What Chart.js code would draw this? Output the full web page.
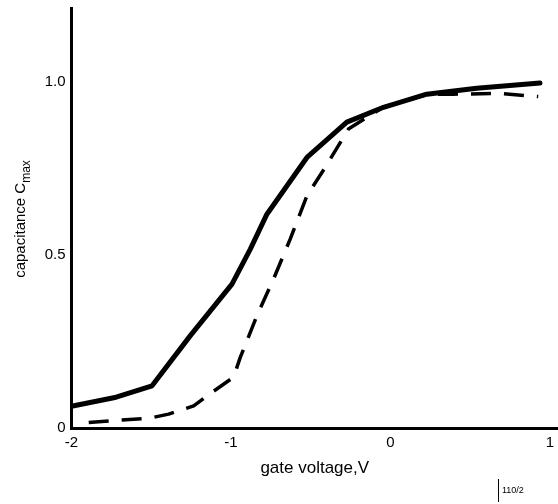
<!DOCTYPE html>
<html>
<head>
<meta charset="utf-8">
<script src="https://cdn.jsdelivr.net/npm/chart.js@4/dist/chart.umd.min.js"></script>
<style>
  html, body { margin: 0; padding: 0; background: #fff; }
  #wrap { width: 558px; height: 504px; position: relative; }
</style>
</head>
<body>
<div id="wrap"><canvas id="c" width="558" height="504"></canvas></div>
<script>
// ---- data ----
const solidX = [-2.00, -1.72, -1.495, -1.255, -0.994, -0.879, -0.775, -0.524, -0.274, -0.044, 0.227, 0.540, 0.937];
const solidY = [0.063, 0.089, 0.122, 0.267, 0.416, 0.517, 0.618, 0.782, 0.884, 0.927, 0.965, 0.982, 0.997];
const dashX = [-1.892, -1.745, -1.516, -1.391, -1.234, -1.119, -0.984, -0.942, -0.837, -0.733, -0.629, -0.524, -0.410, -0.264, -0.044, 0.227, 0.392, 0.686, 0.926];
const dashY = [0.016, 0.021, 0.028, 0.040, 0.064, 0.103, 0.147, 0.204, 0.325, 0.431, 0.546, 0.671, 0.753, 0.864, 0.928, 0.964, 0.965, 0.967, 0.958];
const xTicks = [-2, -1, 0, 1];
const yTicks = [0, 0.5, 1.0];
const yTickLabels = ['0', '0.5', '1.0'];
const xTitle = 'gate voltage,V';
const yTitleMain = 'capacitance C';
const yTitleSub = 'max';
const noteText = '110/2';

const FONT = '"Liberation Sans", Arial, Helvetica, sans-serif';

const pts = (xs, ys) => xs.map((x, i) => ({ x: x, y: ys[i] }));

const annot = {
  id: 'annot',
  afterDraw(chart) {
    const ctx = chart.ctx;
    ctx.save();
    ctx.fillStyle = '#000';
    // y axis title with subscript
    ctx.translate(25, 219);
    ctx.rotate(-Math.PI / 2);
    ctx.textBaseline = 'alphabetic';
    ctx.textAlign = 'left';
    ctx.font = '15px ' + FONT;
    const w1 = ctx.measureText(yTitleMain).width;
    ctx.font = '12px ' + FONT;
    const w2 = ctx.measureText(yTitleSub).width;
    const start = -(w1 + w2) / 2;
    ctx.font = '15px ' + FONT;
    ctx.fillText(yTitleMain, start, 0);
    ctx.font = '12px ' + FONT;
    ctx.fillText(yTitleSub, start + w1, 5);
    ctx.restore();

    // small figure note
    ctx.save();
    ctx.strokeStyle = '#000';
    ctx.lineWidth = 1;
    ctx.beginPath();
    ctx.moveTo(498.5, 479);
    ctx.lineTo(498.5, 502);
    ctx.stroke();
    ctx.fillStyle = '#000';
    ctx.font = '9px ' + FONT;
    ctx.textBaseline = 'alphabetic';
    ctx.fillText(noteText, 502, 493);
    ctx.restore();
  }
};

new Chart(document.getElementById('c'), {
  type: 'line',
  data: {
    datasets: [
      {
        data: pts(solidX, solidY),
        borderColor: '#000',
        borderWidth: 5,
        pointRadius: 0,
        tension: 0,
        fill: false,
        borderCapStyle: 'round',
        borderJoinStyle: 'round'
      },
      {
        data: pts(dashX, dashY),
        borderColor: '#000',
        borderWidth: 3.5,
        borderDash: [20, 13],
        pointRadius: 0,
        tension: 0,
        fill: false,
        borderJoinStyle: 'round'
      }
    ]
  },
  options: {
    responsive: false,
    animation: false,
    layout: { padding: { top: 8, right: 0, left: 0, bottom: 0 } },
    plugins: { legend: { display: false }, tooltip: { enabled: false } },
    scales: {
      x: {
        type: 'linear',
        min: -2,
        max: 1.05,
        grid: { display: false, drawTicks: false },
        border: { display: true, color: '#000', width: 3 },
        afterBuildTicks(scale) { scale.ticks = xTicks.map(v => ({ value: v })); },
        afterFit(scale) { scale.height = 76; scale.paddingLeft = 0; scale.paddingRight = 0; },
        ticks: {
          color: '#000',
          font: { family: FONT, size: 15 },
          padding: 6,
          maxRotation: 0,
          autoSkip: false,
          callback: (v) => String(v)
        },
        title: {
          display: true,
          text: xTitle,
          color: '#000',
          font: { family: FONT, size: 17 },
          padding: { top: 0, bottom: 25 }
        }
      },
      y: {
        type: 'linear',
        min: 0,
        max: 1.214,
        grid: { display: false, drawTicks: false },
        border: { display: true, color: '#000', width: 3 },
        afterBuildTicks(scale) { scale.ticks = yTicks.map(v => ({ value: v })); },
        afterFit(scale) { scale.width = 71.5; scale.paddingTop = 0; scale.paddingBottom = 0; },
        ticks: {
          color: '#000',
          font: { family: FONT, size: 15 },
          padding: 6,
          autoSkip: false,
          callback: (v) => { const i = yTicks.indexOf(v); return i >= 0 ? yTickLabels[i] : ''; }
        }
      }
    }
  },
  plugins: [annot]
});
</script>
</body>
</html>
